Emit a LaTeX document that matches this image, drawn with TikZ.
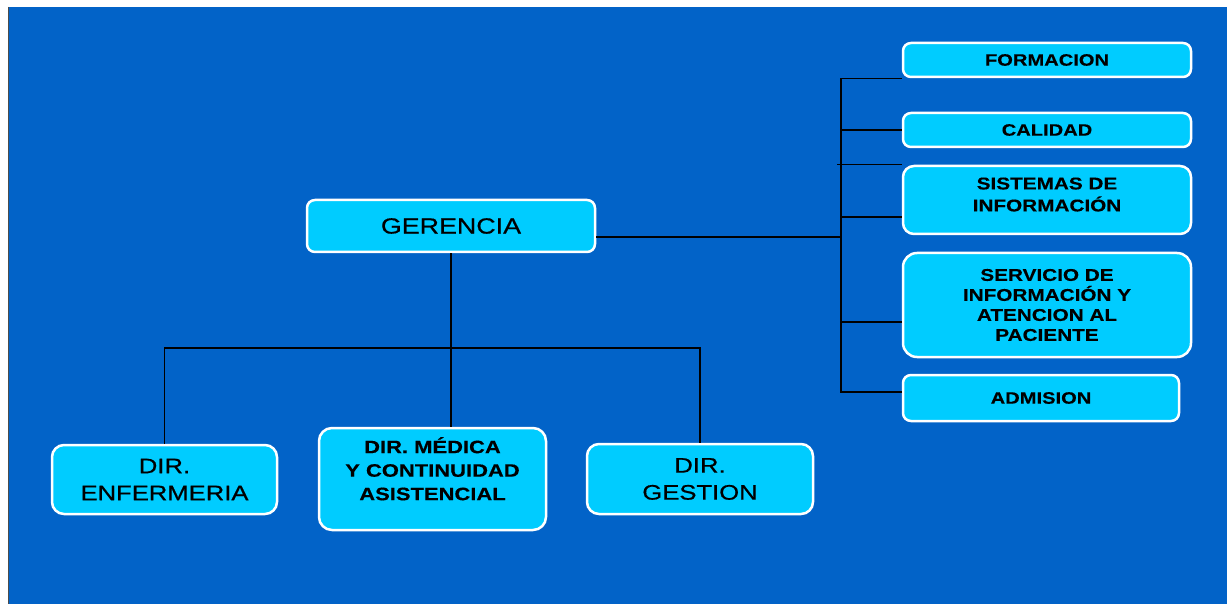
\documentclass[tikz,border=0pt]{standalone}
\usepackage{fontspec}
\setmainfont{Liberation Sans}[FakeStretch=1.22, UprightFeatures={FakeBold=0.7}, BoldFeatures={FakeBold=0.3}]
\usetikzlibrary{calc}
\definecolor{fondo}{RGB}{2,99,200}
\definecolor{celeste}{RGB}{0,204,255}
\begin{document}
\begin{tikzpicture}[x=1pt,y=-1pt]
		\tikzstyle{caja}=[draw=white, line width=2.5pt, fill=celeste, rounded corners=8pt, inner sep=0pt, align=center, text=black]
		\tikzstyle{linea}=[black, line width=1.4pt]
		\useasboundingbox (0,0) rectangle (1227,604);
		\fill [white] (0,0) rectangle (1227,604);
		\fill [fondo] (9,7) rectangle (1227,604);
		\draw [black!70, line width=1.2pt] (8.5,7) -- (8.5,604);
		\node [caja, minimum width=288pt, minimum height=52pt, font=\fontsize{22}{26}\selectfont] (gerencia) at (451,226) {GERENCIA};
		\node [caja, rounded corners=12pt, minimum width=225pt, minimum height=69pt, font=\fontsize{21}{27}\selectfont] (enfermeria) at (164.5,479.5) {DIR.\\ENFERMERIA};
		\node [caja, rounded corners=13pt, minimum width=227pt, minimum height=102pt, font=\bfseries\fontsize{18}{23.5}\selectfont] (medica) at (432.5,479) {\raisebox{7pt}[\height][\depth]{\begin{tabular}{@{}c@{}}DIR. MÉDICA\\Y CONTINUIDAD\\ASISTENCIAL\end{tabular}}};
		\node [caja, rounded corners=12pt, minimum width=226pt, minimum height=70pt, font=\fontsize{21}{27}\selectfont] (gestion) at (700,479) {DIR.\\GESTION};
		\node [caja, minimum width=288pt, minimum height=34pt, font=\bfseries\fontsize{16.5}{22}\selectfont] (formacion) at (1047,60) {FORMACION};
		\node [caja, minimum width=288pt, minimum height=34pt, font=\bfseries\fontsize{16.5}{22}\selectfont] (calidad) at (1047,130) {CALIDAD};
		\node [caja, rounded corners=11pt, minimum width=288pt, minimum height=68pt, font=\bfseries\fontsize{17}{22}\selectfont] (sistemas) at (1047,200) {\raisebox{4pt}[\height][\depth]{\begin{tabular}{@{}c@{}}SISTEMAS DE\\INFORMACIÓN\end{tabular}}};
		\node [caja, rounded corners=14pt, minimum width=288pt, minimum height=104pt, font=\bfseries\fontsize{17}{20}\selectfont] (servicio) at (1047,305) {SERVICIO DE\\INFORMACIÓN Y\\ATENCION AL\\PACIENTE};
		\node [caja, minimum width=276pt, minimum height=46pt, font=\bfseries\fontsize{16.5}{22}\selectfont] (admision) at (1041,398) {ADMISION};
		\coordinate (bus) at (451,348);
		\coordinate (rbus) at (841,0);
		\coordinate (ger out) at ([yshift=-11pt]gerencia.east);
		\coordinate (sis in) at ([yshift=-17pt]sistemas.west);
		\coordinate (ser in) at ([yshift=-17pt]servicio.west);
		\coordinate (adm in) at ([yshift=6pt]admision.west);
		\draw [linea] (gerencia.south) -- (gerencia.south |- medica.north);
		\draw [linea] (enfermeria.north) |- (bus) -| (gestion.north);
		\draw [linea] (formacion.south west) -- (formacion.south west -| rbus) -- (adm in -| rbus) -- (adm in);
		\draw [linea] (ger out) -- (ger out -| rbus);
		\draw [linea] (calidad.west) -- (calidad.west -| rbus);
		\draw [linea] (sistemas.north west) -- ++(-65,0);
		\draw [linea] (sis in) -- (sis in -| rbus);
		\draw [linea] (ser in) -- (ser in -| rbus);
\end{tikzpicture}
\end{document}
